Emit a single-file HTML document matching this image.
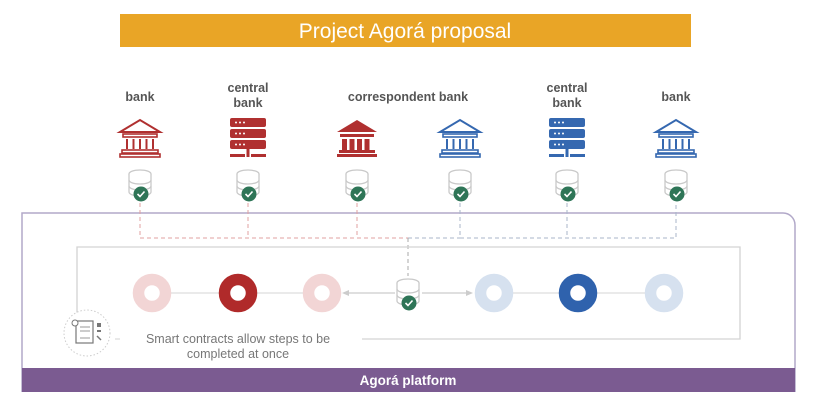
<!DOCTYPE html>
<html><head><meta charset="utf-8"><style>
body{margin:0;width:819px;height:408px;background:#fff;overflow:hidden;font-family:"Liberation Sans",sans-serif}
</style></head><body>
<svg width="819" height="408" viewBox="0 0 819 408" xmlns="http://www.w3.org/2000/svg" font-family="Liberation Sans, sans-serif">
<defs>
<g id="bank">
<path d="M-20 -3 L0 -15 L20 -3 Z" fill="none" stroke-width="2"/>
<rect x="-17" y="-1" width="34" height="3" fill="none" stroke-width="1.6"/>
<g stroke-width="2"><line x1="-13" y1="4" x2="-13" y2="14"/><line x1="-6.5" y1="4" x2="-6.5" y2="14"/><line x1="0" y1="4" x2="0" y2="14"/><line x1="6.5" y1="4" x2="6.5" y2="14"/><line x1="13" y1="4" x2="13" y2="14"/></g>
<rect x="-18" y="15" width="36" height="3" fill="none" stroke-width="1.6"/>
<rect x="-20" y="19" width="40" height="3" fill="none" stroke-width="1.6"/>
</g>
<g id="server">
<rect x="-18" y="-17" width="36" height="9" rx="2"/>
<rect x="-18" y="-6" width="36" height="9" rx="2"/>
<rect x="-18" y="5" width="36" height="9" rx="2"/>
<g fill="#fff"><circle cx="-12" cy="-12.5" r="1"/><circle cx="-8" cy="-12.5" r="1"/><circle cx="-4" cy="-12.5" r="1"/><circle cx="-12" cy="-1.5" r="1"/><circle cx="-8" cy="-1.5" r="1"/><circle cx="-4" cy="-1.5" r="1"/><circle cx="-12" cy="9.5" r="1"/><circle cx="-8" cy="9.5" r="1"/><circle cx="-4" cy="9.5" r="1"/></g>
<rect x="-1.5" y="14" width="3" height="5"/>
<rect x="-18" y="19" width="15" height="3"/><rect x="-1.5" y="19" width="3" height="3"/><rect x="3" y="19" width="15" height="3"/>
</g>
<g id="db">
<ellipse cx="0" cy="-9" rx="11" ry="4" fill="#fff" stroke="#c9c9c9" stroke-width="1.3"/>
<path d="M-11 -9 V9 A11 4 0 0 0 11 9 V-9" fill="#fff" stroke="#c9c9c9" stroke-width="1.3"/>
<path d="M-11 -3 A11 4 0 0 0 11 -3 M-11 3 A11 4 0 0 0 11 3" fill="none" stroke="#c9c9c9" stroke-width="1.3"/>
<circle cx="1" cy="11" r="7.5" fill="#2e7557"/>
<path d="M-2.5 11 L0 13.5 L4.5 8.5" fill="none" stroke="#fff" stroke-width="1.6"/>
</g>
</defs>
<rect x="120" y="14" width="571" height="33" fill="#e9a526"/>
<text x="405" y="38" font-size="21" fill="#fff" text-anchor="middle">Project Agorá proposal</text>
<g font-size="12.5" font-weight="bold" fill="#555" text-anchor="middle">
<text x="140" y="101">bank</text>
<text x="248" y="92">central</text><text x="248" y="107">bank</text>
<text x="408" y="101">correspondent bank</text>
<text x="567" y="92">central</text><text x="567" y="107">bank</text>
<text x="676" y="101">bank</text>
</g>
<use href="#bank" x="140" y="135" stroke="#b03030"/>
<use href="#server" x="248" y="135" fill="#b03030"/>
<g transform="translate(357,135)" fill="#b03030"><path d="M-20 -3 L0 -15 L20 -3 Z"/><rect x="-17" y="-1" width="34" height="3"/><rect x="-15" y="4" width="5" height="11"/><rect x="-7.5" y="4" width="5" height="11"/><rect x="0" y="4" width="5" height="11"/><rect x="7.5" y="4" width="5" height="11"/><rect x="-18" y="15" width="36" height="3"/><rect x="-20" y="19" width="40" height="3"/></g>
<use href="#bank" x="460" y="135" stroke="#3568b0"/>
<use href="#server" x="567" y="135" fill="#3568b0"/>
<use href="#bank" x="676" y="135" stroke="#3568b0"/>
<path d="M22 392 V213 H783 A12 12 0 0 1 795 225 V392" fill="none" stroke="#b2a9c9" stroke-width="1.5"/>
<g fill="none" stroke-dasharray="4 3" stroke-width="1">
<path d="M140 203 V238 H408 M248 203 V238 M357 203 V238" stroke="#e0a0a0"/>
<path d="M460 203 V238 H676 V203 M567 203 V238 M408 238 H460" stroke="#a9b5c9"/>
<path d="M408 238 V276" stroke="#aaa"/>
</g>
<path d="M77 313 V247 H740 V339 H362" fill="none" stroke="#d3d3d3" stroke-width="1.3"/>
<line x1="115" y1="339" x2="120" y2="339" stroke="#d3d3d3"/>
<line x1="152" y1="293" x2="322" y2="293" stroke="#ddd" stroke-width="1.3"/>
<line x1="494" y1="293" x2="664" y2="293" stroke="#ddd" stroke-width="1.3"/>
<line x1="395" y1="293" x2="348" y2="293" stroke="#ccc" stroke-width="1.3"/>
<path d="M342 293 L349 290 L349 296 Z" fill="#ccc"/>
<line x1="422" y1="293" x2="466" y2="293" stroke="#ccc" stroke-width="1.3"/>
<path d="M473 293 L466 290 L466 296 Z" fill="#ccc"/>
<g fill="#fff" stroke-width="11.5">
<circle cx="152" cy="293" r="13.5" stroke="#f2d5d5"/>
<circle cx="238" cy="293" r="13.5" stroke="#b02a2a"/>
<circle cx="322" cy="293" r="13.5" stroke="#f2d5d5"/>
<circle cx="494" cy="293" r="13.5" stroke="#d6e1ef"/>
<circle cx="578" cy="293" r="13.5" stroke="#2f62ad"/>
<circle cx="664" cy="293" r="13.5" stroke="#d6e1ef"/>
</g>
<use href="#db" x="408" y="292"/>
<use href="#db" x="140" y="183"/><use href="#db" x="248" y="183"/><use href="#db" x="357" y="183"/>
<use href="#db" x="460" y="183"/><use href="#db" x="567" y="183"/><use href="#db" x="676" y="183"/>
<circle cx="87" cy="333" r="23" fill="#fff" stroke="#ccc" stroke-dasharray="1.5 2"/>
<rect x="76" y="321" width="17" height="22" fill="#fff" stroke="#777" stroke-width="1.2"/>
<g stroke="#999"><line x1="80" y1="327" x2="90" y2="327"/><line x1="80" y1="331" x2="90" y2="331"/><line x1="80" y1="338" x2="90" y2="338"/></g>
<circle cx="75" cy="323" r="3" fill="#fff" stroke="#777"/>
<rect x="97" y="323" width="4" height="4" fill="#777"/><rect x="97" y="330" width="4" height="2" fill="#777"/><path d="M97 336 l4 4" stroke="#777" stroke-width="1.5"/>
<g font-size="12.5" fill="#777" text-anchor="middle">
<text x="238" y="343">Smart contracts allow steps to be</text>
<text x="238" y="358">completed at once</text>
</g>
<rect x="22" y="368" width="773" height="24" fill="#7b5b91"/>
<text x="408" y="385" font-size="13.5" font-weight="bold" fill="#fff" text-anchor="middle">Agorá platform</text>
</svg>
</body></html>
